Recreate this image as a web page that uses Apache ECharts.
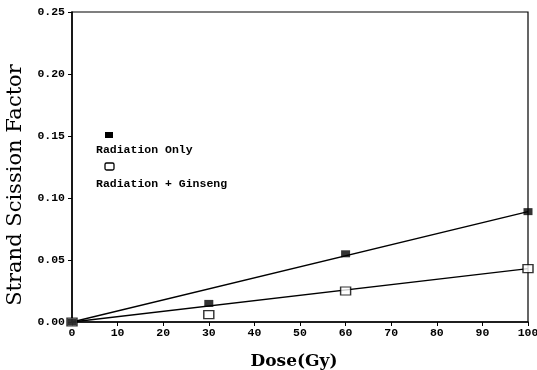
<!DOCTYPE html>
<html><head><meta charset="utf-8">
<script src="https://cdn.jsdelivr.net/npm/echarts@6/dist/echarts.min.js"></script>
<style>html,body{margin:0;padding:0;background:#fff}#c{width:537px;height:370px}</style>
</head><body><div id="c"></div>
<script>
var doses = [0, 30, 60, 100];
var radiationOnly = [0, 0.015, 0.055, 0.089];
var radiationGinseng = [0, 0.006, 0.025, 0.043];
var fitXs = [0, 100];
var fitRadiationOnly = [0, 0.089];
var fitRadiationGinseng = [0, 0.043];
var legendNames = ['Radiation Only', 'Radiation + Ginseng'];
var xTitle = 'Dose(Gy)';
var yTitle = 'Strand Scission Factor';

function pairs(xs, ys){ return xs.map(function(x,i){ return [x, ys[i]]; }); }

var tickFont = {fontFamily:'Liberation Mono', fontWeight:'bold', fontSize:11.5, color:'#000'};
var chart = echarts.init(document.getElementById('c'), null, {renderer:'canvas'});
chart.setOption({
  animation:false,
  backgroundColor:'#fff',
  grid:{left:72, right:9, top:12, bottom:48, containLabel:false, outerBoundsMode:'none',
    show:true, borderColor:'#000', borderWidth:1.2},
  xAxis:{type:'value', min:0, max:100, interval:10,
    name:xTitle, nameLocation:'middle', nameGap:31,
    nameTextStyle:{fontFamily:'DejaVu Serif', fontWeight:'bold', fontSize:17, color:'#000', padding:[0,12,0,0]},
    axisLine:{lineStyle:{color:'#000', width:1.5}},
    axisTick:{length:4, lineStyle:{color:'#000'}},
    axisLabel:Object.assign({margin:5}, tickFont),
    splitLine:{show:false}},
  yAxis:{type:'value', min:0, max:0.25, interval:0.05,
    axisLine:{lineStyle:{color:'#000', width:1.5}},
    axisTick:{length:4, lineStyle:{color:'#000'}},
    axisLabel:Object.assign({margin:7, formatter:function(v){return v.toFixed(2);}}, tickFont),
    splitLine:{show:false}},
  series:[
    {type:'line', data:pairs(fitXs, fitRadiationOnly), symbol:'none', lineStyle:{color:'#000', width:1.3}, z:2},
    {type:'line', data:pairs(fitXs, fitRadiationGinseng), symbol:'none', lineStyle:{color:'#000', width:1.3}, z:2},
    {type:'scatter', name:legendNames[0], data:pairs(doses, radiationOnly), symbol:'rect', symbolSize:[9,7],
      itemStyle:{color:'#000'}, z:4},
    {type:'scatter', name:legendNames[1], data:pairs(doses, radiationGinseng), symbol:'rect', symbolSize:[10,8],
      itemStyle:{color:'#fff', borderColor:'#000', borderWidth:1.3}, z:3}
  ],
  graphic:[
    {type:'text', x:16, y:185, rotation:Math.PI/2,
      style:{text:yTitle, font:'21px "DejaVu Serif"', fill:'#000', textAlign:'center', textVerticalAlign:'middle'}},
    {type:'rect', shape:{x:105, y:132, width:8, height:6}, style:{fill:'#000'}},
    {type:'text', x:96, y:150, style:{text:legendNames[0], font:'bold 11.5px "Liberation Mono"', fill:'#000', textVerticalAlign:'middle'}},
    {type:'rect', shape:{x:105, y:163, width:9, height:7, r:1.5}, style:{fill:'#fff', stroke:'#000', lineWidth:1.3}},
    {type:'text', x:96, y:184, style:{text:legendNames[1], font:'bold 11.5px "Liberation Mono"', fill:'#000', textVerticalAlign:'middle'}}
  ]
});
</script></body></html>
